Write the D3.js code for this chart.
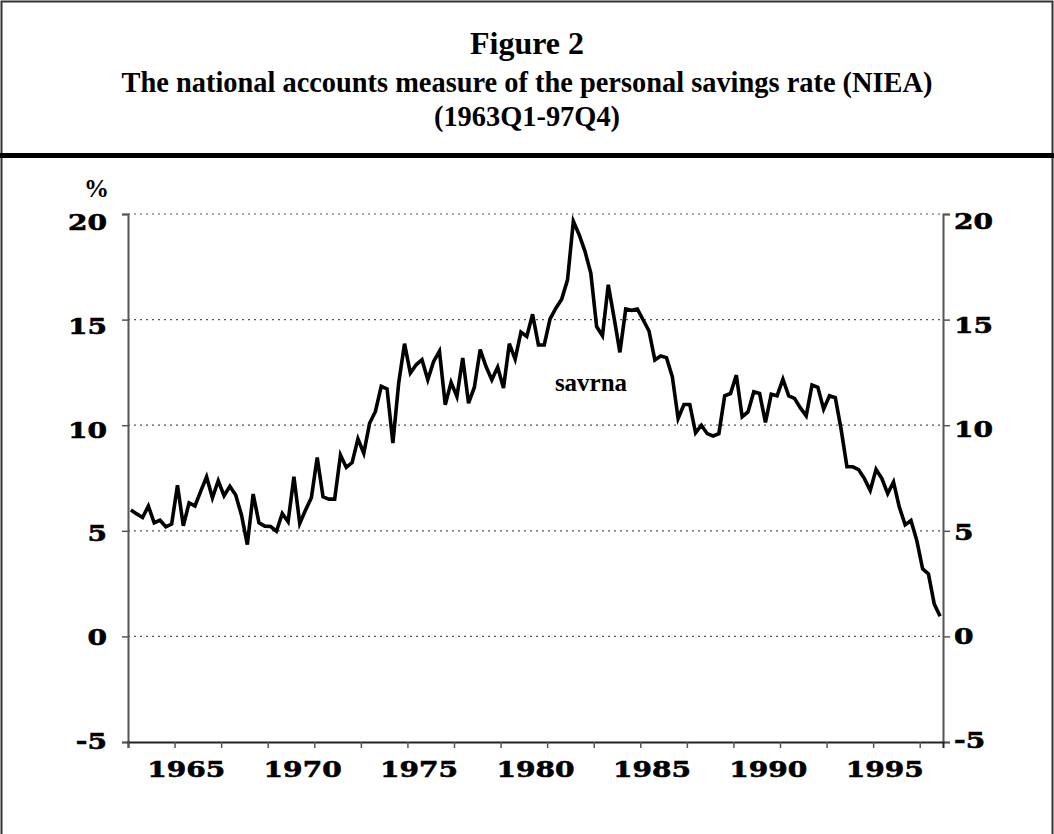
<!DOCTYPE html>
<html>
<head>
<meta charset="utf-8">
<script src="https://cdn.jsdelivr.net/npm/d3@7"></script>
<style>
  html, body { margin: 0; padding: 0; background: #fff; }
  svg { display: block; }
</style>
</head>
<body>
<svg id="chart" width="1054" height="834"></svg>
<script>
// ---- data (1963Q1 .. 1997Q4), personal savings rate, % ----
const startYear = 1963;
const endYear = 1998;
const savrna = [
  5.98, 5.80, 5.63, 6.17, 5.38, 5.50, 5.19, 5.32, 7.16, 5.24,
  6.32, 6.18, 6.88, 7.56, 6.56, 7.37, 6.66, 7.11, 6.69, 5.74,
  4.35, 6.74, 5.38, 5.22, 5.20, 4.98, 5.82, 5.43, 7.56, 5.35,
  5.98, 6.57, 8.47, 6.61, 6.50, 6.50, 8.59, 8.00, 8.23, 9.35,
  8.67, 10.09, 10.65, 11.84, 11.72, 9.15, 12.00, 13.86, 12.47, 12.86,
  13.10, 12.15, 13.02, 13.50, 10.97, 12.03, 11.36, 13.18, 11.04, 11.80,
  13.58, 12.78, 12.15, 12.75, 11.76, 13.86, 13.13, 14.41, 14.20, 15.25,
  13.80, 13.80, 15.03, 15.54, 15.97, 16.88, 19.65, 19.02, 18.23, 17.20,
  14.67, 14.24, 16.65, 15.08, 13.45, 15.50, 15.44, 15.50, 14.98, 14.46,
  13.09, 13.28, 13.20, 12.30, 10.32, 10.98, 10.98, 9.64, 10.00, 9.60,
  9.49, 9.60, 11.39, 11.50, 12.37, 10.40, 10.63, 11.58, 11.50, 10.13,
  11.47, 11.39, 12.18, 11.39, 11.27, 10.82, 10.44, 11.90, 11.79, 10.76,
  11.39, 11.30, 9.80, 8.03, 8.03, 7.90, 7.47, 6.91, 7.91, 7.47,
  6.76, 7.31, 6.12, 5.28, 5.49, 4.54, 3.20, 2.96, 1.53, 0.95
];
const quarters = savrna.map((_, i) => `${startYear + Math.floor(i / 4)}Q${(i % 4) + 1}`);
const yTicks = [-5, 0, 5, 10, 15, 20];
const gridValues = [0, 5, 10, 15, 20];
const xLabelYears = [1965, 1970, 1975, 1980, 1985, 1990, 1995];
const xTickYears = d3.range(1963, 1998, 2);
const titleText = "Figure 2";
const subtitleLines = ["The national accounts measure of the personal savings rate (NIEA)", "(1963Q1-97Q4)"];
const seriesName = "savrna";

// ---- layout ----
const W = 1054, H = 834;
const plot = { left: 128, right: 943, top: 214, bottom: 742 };
const svg = d3.select("#chart");

const x = d3.scaleLinear().domain([startYear, endYear]).range([plot.left, plot.right]);
const y = d3.scaleLinear().domain([-5, 20]).range([plot.bottom, plot.top]);
const xq = i => x(startYear + (i + 0.5) / 4);
// label positions in the original are spread slightly tighter than the grid
const yLab = d3.scaleLinear().domain([-5, 20]).range([741, 222]);

// outer frame
svg.append("rect").attr("x", 1.5).attr("y", 1.5).attr("width", W - 3).attr("height", H + 10)
  .attr("fill", "none").attr("stroke", "#333").attr("stroke-width", 2);
// thick separator
svg.append("line").attr("x1", 0).attr("x2", W).attr("y1", 155.5).attr("y2", 155.5)
  .attr("stroke", "#000").attr("stroke-width", 5);

// titles
const serif = "'Liberation Serif', 'Times New Roman', serif";
svg.append("text").attr("x", W / 2).attr("y", 54).attr("text-anchor", "middle")
  .attr("font-family", serif).attr("font-weight", "bold").attr("font-size", 32).text(titleText);
subtitleLines.forEach((t, k) => {
  svg.append("text").attr("x", W / 2).attr("y", 92 + k * 34).attr("text-anchor", "middle")
    .attr("font-family", serif).attr("font-weight", "bold").attr("font-size", 28.4).text(t);
});

// gridlines
svg.append("g").selectAll("line").data(gridValues).join("line")
  .attr("x1", plot.left).attr("x2", plot.right)
  .attr("y1", d => y(d)).attr("y2", d => y(d))
  .attr("stroke", "#555").attr("stroke-width", 1.2).attr("stroke-dasharray", "2,4");

// axes via d3
const tickFont = "'DejaVu Serif', serif";
const leftAxis = d3.axisLeft(y).tickValues(yTicks).tickSize(6).tickFormat("");
const rightAxis = d3.axisRight(y).tickValues(yTicks).tickSize(7).tickFormat("");
const bottomAxis = d3.axisBottom(x).tickValues(xTickYears).tickSize(6).tickFormat("");

const gl = svg.append("g").attr("transform", `translate(${plot.left},0)`).call(leftAxis);
const gr = svg.append("g").attr("transform", `translate(${plot.right},0)`).call(rightAxis);
const gb = svg.append("g").attr("transform", `translate(0,${plot.bottom})`).call(bottomAxis);
[gl, gr, gb].forEach(g => {
  g.select(".domain").attr("stroke", "#555").attr("stroke-width", 2);
  g.selectAll(".tick line").attr("stroke", "#555").attr("stroke-width", 1.5);
});
gb.select(".domain").attr("stroke", "#222");

// wide bold serif labels
function wideText(g, xp, yp, anchor, txt, size) {
  g.append("text").attr("transform", `translate(${xp},${yp}) scale(1.22,1)`)
    .attr("text-anchor", anchor).attr("font-family", tickFont).attr("font-weight", "bold")
    .attr("font-size", size).attr("fill", "#000")
    .attr("stroke", "#000").attr("stroke-width", 0.6).text(txt);
}
const yl = svg.append("g");
yTicks.forEach(v => {
  wideText(yl, 107, yLab(v) + 8, "end", String(v), 23);
  wideText(yl, 954, yLab(v) + 7, "start", String(v), 23);
});
// x labels centred on year
const xl = svg.append("g");
xLabelYears.forEach(v => wideText(xl, x(v + 0.5), 777, "middle", String(v), 23));

// % label
svg.append("text").attr("x", 84).attr("y", 197).attr("font-family", serif)
  .attr("font-weight", "bold").attr("font-size", 25).text("%");

// series line
const line = d3.line().x((d, i) => xq(i)).y(d => y(d));
svg.append("path").datum(savrna).attr("d", line).attr("fill", "none")
  .attr("stroke", "#000").attr("stroke-width", 3.6).attr("stroke-linejoin", "miter");

// series name label
svg.append("text").attr("x", 591).attr("y", 391).attr("text-anchor", "middle")
  .attr("font-family", serif).attr("font-weight", "bold").attr("font-size", 25).text(seriesName);
</script>
</body>
</html>
